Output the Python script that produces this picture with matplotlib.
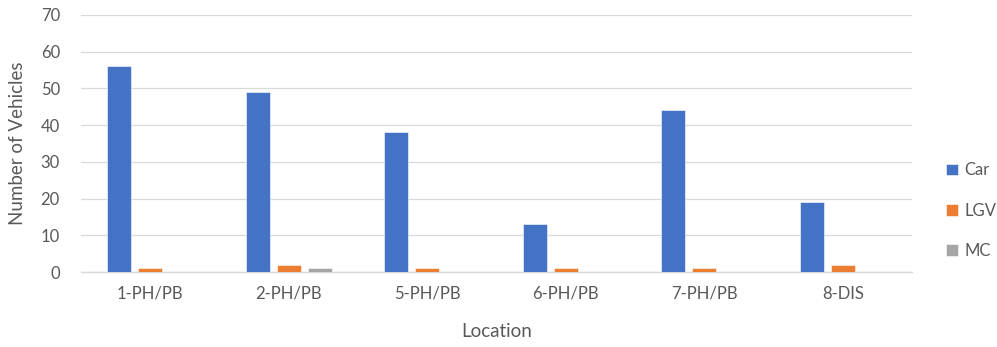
import matplotlib
matplotlib.use("Agg")
import matplotlib.pyplot as plt
import numpy as np

locations = ["1-PH/PB", "2-PH/PB", "5-PH/PB", "6-PH/PB", "7-PH/PB", "8-DIS"]
car = [56, 49, 38, 13, 44, 19]
lgv = [1, 2, 1, 1, 1, 2]
mc = [0, 1, 0, 0, 0, 0]
series_names = ["Car", "LGV", "MC"]
series_colors = ["#4472C4", "#ED7D31", "#A5A5A5"]

plt.rcParams["font.family"] = ["Lato", "DejaVu Sans"]
text_color = "#595959"

fig = plt.figure(figsize=(9.97, 3.47), dpi=100)
ax = fig.add_axes([0.081, 0.216, 0.834, 0.741])

x = np.arange(len(locations))
width = 0.173
step = 0.224
for i, (vals, name, col) in enumerate(zip([car, lgv, mc], series_names, series_colors)):
    ax.bar(x + (i - 1) * step, vals, width, color=col, label=name,
           edgecolor="white", linewidth=0.4, zorder=3)

ax.set_xlim(-0.5, len(locations) - 0.5)
ax.set_ylim(0, 70)
ax.set_yticks(range(0, 71, 10))
ax.set_xticks(x)
ax.set_xticklabels(locations)
ax.tick_params(axis="both", length=0, colors=text_color, labelsize=12)
ax.tick_params(axis="y", pad=15)
ax.tick_params(axis="x", pad=10)
ax.grid(axis="y", color="#D9D9D9", linewidth=0.9, zorder=0)
for s in ["top", "right", "left"]:
    ax.spines[s].set_visible(False)
ax.spines["bottom"].set_color("#D9D9D9")
ax.spines["bottom"].set_linewidth(1.0)

ax.set_ylabel("Number of Vehicles", color=text_color, fontsize=13.5)
ax.yaxis.set_label_coords(-0.066, 0.5)
ax.set_xlabel("Location", color=text_color, fontsize=13.5)
ax.xaxis.set_label_coords(0.5, -0.2)

leg = fig.legend(loc="center left", bbox_to_anchor=(0.942, 0.393), frameon=False,
                 handlelength=0.7, handleheight=0.7, handletextpad=0.4,
                 labelspacing=1.45, fontsize=12, borderaxespad=0)
for t in leg.get_texts():
    t.set_color(text_color)

fig.savefig("out.png", dpi=100)
